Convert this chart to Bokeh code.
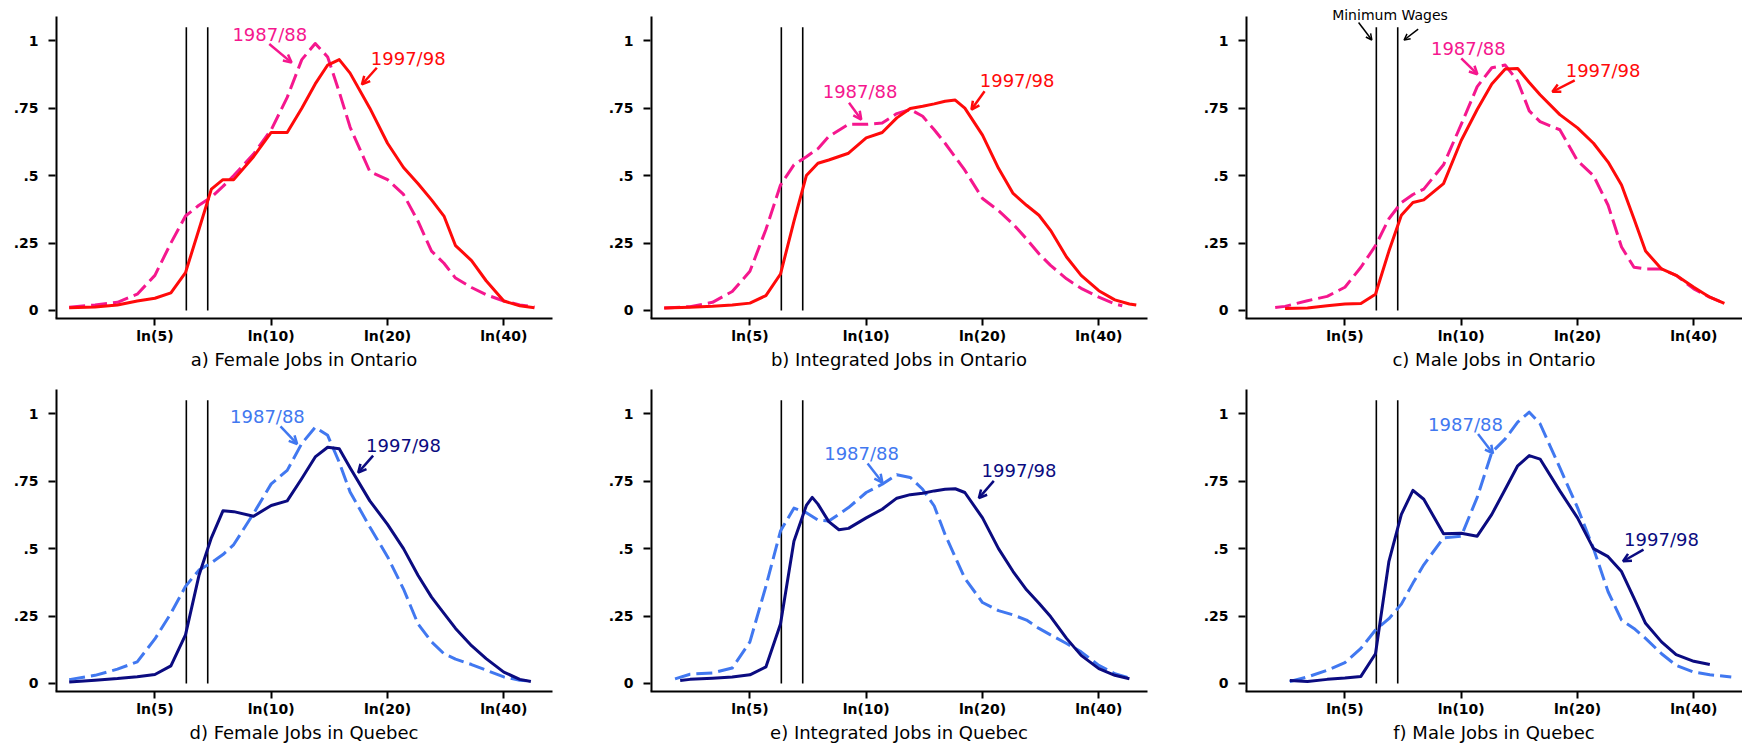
import numpy as np
from bokeh.plotting import figure
from bokeh.models import Range1d, FixedTicker, Label, Arrow, OpenHead, Title
from bokeh.layouts import gridplot
from bokeh.embed import file_html
from bokeh.resources import INLINE

# ---------------- data ----------------
TICK_WAGES = [5, 10, 20, 40]
TICK_LABELS = ["ln(5)", "ln(10)", "ln(20)", "ln(40)"]
Y_TICKS = [0, 0.25, 0.5, 0.75, 1]
Y_TICK_LABELS = ["0", ".25", ".5", ".75", "1"]
MIN_WAGES = [6.03, 6.85]
SERIES = ["1987/88", "1997/98"]
TITLES = ["a) Female Jobs in Ontario", "b) Integrated Jobs in Ontario", "c) Male Jobs in Ontario",
          "d) Female Jobs in Quebec", "e) Integrated Jobs in Quebec", "f) Male Jobs in Quebec"]

a87_w = [3, 3.5, 4, 4.5, 5, 5.5, 6, 6.5, 7, 7.5, 8, 9, 10, 11, 12, 13, 14, 15, 16, 18, 20, 22, 24, 26, 28, 30, 33, 36, 40, 44, 48]
a87_y = [0.012, 0.02, 0.03, 0.06, 0.13, 0.25, 0.35, 0.39, 0.42, 0.46, 0.50, 0.58, 0.67, 0.79, 0.93, 0.99, 0.94, 0.81, 0.68, 0.515, 0.485, 0.43, 0.33, 0.22, 0.175, 0.12, 0.085, 0.058, 0.035, 0.02, 0.013]
a97_w = [3, 3.5, 4, 4.5, 5, 5.5, 6, 6.5, 7, 7.5, 8, 9, 10, 11, 12, 13, 14, 15, 16, 18, 20, 22, 24, 26, 28, 30, 33, 36, 40, 44, 48]
a97_y = [0.01, 0.013, 0.02, 0.035, 0.045, 0.065, 0.14, 0.30, 0.45, 0.485, 0.485, 0.57, 0.66, 0.66, 0.75, 0.84, 0.91, 0.93, 0.88, 0.75, 0.62, 0.53, 0.47, 0.41, 0.35, 0.24, 0.185, 0.11, 0.035, 0.017, 0.01]

b87_w = [3, 3.5, 4, 4.5, 5, 5.5, 6, 6.5, 7, 7.5, 8, 9, 10, 11, 12, 13, 14, 15, 16, 18, 20, 22, 24, 26, 28, 30, 33, 36, 40, 44, 46]
b87_y = [0.009, 0.014, 0.03, 0.07, 0.145, 0.30, 0.465, 0.54, 0.57, 0.60, 0.645, 0.69, 0.69, 0.695, 0.73, 0.745, 0.72, 0.67, 0.62, 0.52, 0.415, 0.37, 0.32, 0.265, 0.21, 0.167, 0.117, 0.082, 0.049, 0.024, 0.017]
b97_w = [3, 3.5, 4, 4.5, 5, 5.5, 6, 6.5, 7, 7.5, 8, 9, 10, 11, 12, 13, 14, 15, 16, 17, 18, 20, 22, 24, 26, 28, 30, 33, 36, 40, 44, 48, 50]
b97_y = [0.009, 0.012, 0.015, 0.02, 0.027, 0.055, 0.135, 0.33, 0.50, 0.546, 0.558, 0.583, 0.64, 0.66, 0.714, 0.749, 0.757, 0.766, 0.776, 0.78, 0.75, 0.65, 0.527, 0.434, 0.39, 0.353, 0.297, 0.198, 0.13, 0.073, 0.039, 0.024, 0.02]

c87_w = [3.3, 3.5, 4, 4.5, 5, 5.5, 6, 6.5, 7, 7.5, 8, 9, 10, 11, 12, 13, 14, 15, 16, 18, 20, 22, 24, 26, 28, 30, 33, 36, 40, 44, 48]
c87_y = [0.011, 0.015, 0.036, 0.052, 0.086, 0.16, 0.24, 0.34, 0.40, 0.43, 0.45, 0.54, 0.69, 0.83, 0.90, 0.91, 0.85, 0.74, 0.70, 0.67, 0.555, 0.50, 0.39, 0.235, 0.16, 0.154, 0.154, 0.13, 0.08, 0.049, 0.026]
c97_w = [3.5, 4, 4.5, 5, 5.5, 6, 6.5, 7, 7.5, 8, 9, 10, 11, 12, 13, 14, 15, 16, 18, 20, 22, 24, 26, 28, 30, 33, 36, 40, 44, 48]
c97_y = [0.007, 0.009, 0.017, 0.024, 0.026, 0.06, 0.22, 0.353, 0.40, 0.41, 0.47, 0.63, 0.745, 0.84, 0.895, 0.897, 0.845, 0.80, 0.726, 0.677, 0.62, 0.55, 0.465, 0.34, 0.22, 0.154, 0.13, 0.086, 0.049, 0.026]

d87_w = [3, 3.5, 4, 4.5, 5, 5.5, 6, 6.5, 7, 7.5, 8, 9, 10, 11, 12, 13, 14, 15, 16, 18, 20, 22, 24, 26, 28, 30, 33, 36, 40, 44, 47]
d87_y = [0.014, 0.03, 0.053, 0.08, 0.165, 0.26, 0.36, 0.42, 0.447, 0.478, 0.515, 0.63, 0.74, 0.79, 0.89, 0.95, 0.92, 0.82, 0.71, 0.58, 0.47, 0.35, 0.22, 0.154, 0.11, 0.09, 0.07, 0.049, 0.024, 0.012, 0.009]
d97_w = [3, 3.5, 4, 4.5, 5, 5.5, 6, 6.5, 7, 7.5, 8, 9, 10, 11, 12, 13, 14, 15, 16, 18, 20, 22, 24, 26, 28, 30, 33, 36, 40, 44, 47]
d97_y = [0.005, 0.012, 0.018, 0.025, 0.033, 0.065, 0.18, 0.40, 0.54, 0.64, 0.637, 0.62, 0.66, 0.677, 0.76, 0.84, 0.876, 0.87, 0.80, 0.677, 0.59, 0.50, 0.40, 0.32, 0.26, 0.204, 0.14, 0.092, 0.042, 0.015, 0.007]

e87_w = [3.2, 3.5, 4, 4.5, 5, 5.5, 6, 6.5, 7, 7.5, 8, 9, 10, 11, 12, 13, 14, 15, 16, 18, 20, 22, 24, 26, 28, 30, 33, 36, 40, 44, 48]
e87_y = [0.017, 0.034, 0.039, 0.057, 0.154, 0.36, 0.565, 0.65, 0.633, 0.606, 0.602, 0.652, 0.708, 0.739, 0.774, 0.764, 0.72, 0.658, 0.552, 0.39, 0.30, 0.27, 0.254, 0.235, 0.204, 0.18, 0.148, 0.117, 0.067, 0.036, 0.02]
e97_w = [3.3, 3.5, 4, 4.5, 5, 5.5, 6, 6.5, 7, 7.25, 7.5, 8, 8.5, 9, 10, 11, 12, 13, 14, 15, 16, 17, 18, 20, 22, 24, 26, 28, 30, 33, 36, 40, 44, 48]
e97_y = [0.011, 0.015, 0.019, 0.024, 0.032, 0.061, 0.22, 0.527, 0.66, 0.69, 0.665, 0.60, 0.57, 0.575, 0.614, 0.646, 0.687, 0.70, 0.705, 0.714, 0.72, 0.722, 0.708, 0.614, 0.50, 0.415, 0.347, 0.297, 0.248, 0.167, 0.104, 0.055, 0.03, 0.017]

f87_w = [3.6, 4, 4.5, 5, 5.5, 6, 6.5, 7, 7.5, 8, 9, 10, 11, 12, 13, 14, 15, 16, 18, 20, 22, 24, 26, 28, 30, 33, 36, 40, 44, 50]
f87_y = [0.007, 0.024, 0.049, 0.077, 0.13, 0.198, 0.24, 0.294, 0.372, 0.44, 0.54, 0.546, 0.69, 0.857, 0.907, 0.969, 1.006, 0.963, 0.80, 0.652, 0.50, 0.34, 0.235, 0.204, 0.167, 0.11, 0.067, 0.042, 0.032, 0.024]
f97_w = [3.6, 4, 4.5, 5, 5.5, 6, 6.5, 7, 7.5, 8, 9, 10, 11, 12, 13, 14, 15, 16, 18, 20, 22, 24, 26, 28, 30, 33, 36, 40, 44]
f97_y = [0.011, 0.007, 0.015, 0.02, 0.026, 0.11, 0.453, 0.627, 0.716, 0.683, 0.555, 0.557, 0.546, 0.627, 0.72, 0.807, 0.845, 0.832, 0.714, 0.614, 0.50, 0.47, 0.415, 0.316, 0.223, 0.154, 0.107, 0.082, 0.07]

# ---------------- styles ----------------
PINK, RED = "#F5178E", "#FF0A0A"
LBLUE, NAVY = "#4178F0", "#0B0B80"
FONT = "DejaVu Sans"
X_MIN, X_MAX = 1.017, 3.979
Y_MIN, Y_AXIS_TOP, Y_MAX = -0.03, 1.09, 1.1494

# label placements (x in ln-wage units, y in density units):
# (text x, text y, arrow start x, arrow start y, arrow end x, arrow end y)
PLACE = [
    [(2.294, 1.025, 2.291, 0.988, 2.424, 0.919), (3.119, 0.935, 2.932, 0.900, 2.843, 0.838)],
    [(2.266, 0.811, 2.200, 0.770, 2.273, 0.708), (3.202, 0.851, 3.008, 0.813, 2.930, 0.745)],
    [(2.345, 0.973, 2.303, 0.935, 2.399, 0.876), (3.148, 0.888, 2.979, 0.853, 2.846, 0.811)],
    [(2.280, 0.990, 2.358, 0.953, 2.457, 0.888), (3.091, 0.882, 2.910, 0.845, 2.821, 0.782)],
    [(2.275, 0.854, 2.311, 0.816, 2.399, 0.745), (3.213, 0.789, 3.063, 0.751, 2.974, 0.687)],
    [(2.328, 0.960, 2.403, 0.925, 2.492, 0.853), (3.496, 0.534, 3.389, 0.496, 3.267, 0.453)],
]

CURVES = [
    (a87_w, a87_y, a97_w, a97_y, PINK, RED),
    (b87_w, b87_y, b97_w, b97_y, PINK, RED),
    (c87_w, c87_y, c97_w, c97_y, PINK, RED),
    (d87_w, d87_y, d97_w, d97_y, LBLUE, NAVY),
    (e87_w, e87_y, e97_w, e97_y, LBLUE, NAVY),
    (f87_w, f87_y, f97_w, f97_y, LBLUE, NAVY),
]

x_ticks = [float(np.log(w)) for w in TICK_WAGES]
x_over = {t: lab for t, lab in zip(x_ticks, TICK_LABELS)}
y_over = {t: lab for t, lab in zip(Y_TICKS, Y_TICK_LABELS)}


def make_fig(i):
    col, row = i % 3, i // 3
    w87, y87, w97, y97, c87, c97 = CURVES[i]
    p = figure(frame_width=497, frame_height=318,
               x_range=Range1d(X_MIN, X_MAX), y_range=Range1d(Y_MIN, Y_MAX),
               output_backend="svg", toolbar_location=None,
               min_border_left=55, min_border_right=(0 if col == 2 else 43),
               min_border_top=0, min_border_bottom=(55 if row == 0 else 54))
    p.outline_line_color = None
    p.xgrid.visible = False
    p.ygrid.visible = False
    p.background_fill_color = "white"
    p.border_fill_color = "white"

    p.xaxis.ticker = FixedTicker(ticks=x_ticks)
    p.xaxis.major_label_overrides = x_over
    p.yaxis.ticker = FixedTicker(ticks=Y_TICKS)
    p.yaxis.major_label_overrides = y_over
    for ax in (p.xaxis[0], p.yaxis[0]):
        ax.axis_line_width = 2
        ax.axis_line_color = "black"
        ax.major_tick_line_width = 2
        ax.major_tick_line_color = "black"
        ax.major_tick_in = 0
        ax.major_tick_out = 7
        ax.minor_tick_in = 0
        ax.minor_tick_out = 0
        ax.major_label_text_font = FONT
        ax.major_label_text_font_style = "bold"
        ax.major_label_text_font_size = "14px"
        ax.major_label_text_color = "black"
    p.xaxis.major_label_standoff = 2
    p.yaxis.major_label_standoff = 10
    # the y axis line stops at the top of the plotted region (like the original)
    p.yaxis.axis_line_color = None
    p.segment(x0=[X_MIN], y0=[Y_MIN], x1=[X_MIN], y1=[Y_AXIS_TOP], line_color="black", line_width=4)

    # minimum wage lines
    mw = np.log(MIN_WAGES)
    p.segment(x0=mw, y0=[0, 0], x1=mw, y1=[1.05, 1.05], line_color="black", line_width=1.6)

    # density curves
    p.line(np.log(w87), y87, line_color=c87, line_width=3, line_dash="16 6", line_join="round")
    p.line(np.log(w97), y97, line_color=c97, line_width=3, line_join="round")

    for k, (tx, ty, ax0, ay0, ax1, ay1) in enumerate(PLACE[i]):
        c = c87 if k == 0 else c97
        p.add_layout(Label(x=tx, y=ty, text=SERIES[k], text_align="center", text_baseline="middle",
                           text_font=FONT, text_font_size="18px", text_color=c))
        p.add_layout(Arrow(x_start=ax0, y_start=ay0, x_end=ax1, y_end=ay1,
                           line_color=c, line_width=2.5,
                           end=OpenHead(size=8, line_color=c, line_width=2.5)))

    if i == 2:
        p.add_layout(Label(x=1.878, y=1.096, text="Minimum Wages", text_align="center",
                           text_baseline="middle", text_font=FONT, text_font_size="14px",
                           text_color="black"))
        for (x0, y0, x1, y1) in [(1.691, 1.068, 1.770, 1.003), (2.046, 1.043, 1.962, 1.003)]:
            p.add_layout(Arrow(x_start=x0, y_start=y0, x_end=x1, y_end=y1, line_color="black",
                               line_width=1.5, end=OpenHead(size=6, line_color="black", line_width=1.5)))

    p.add_layout(Title(text=TITLES[i], align="center", offset=17, text_font=FONT,
                       text_font_size="18px", text_font_style="normal", text_color="black",
                       standoff=1), "below")
    return p


figs = [make_fig(i) for i in range(6)]
grid = gridplot([figs[0:3], figs[3:6]], toolbar_location=None)
open("out.html", "w").write(file_html(grid, INLINE))
